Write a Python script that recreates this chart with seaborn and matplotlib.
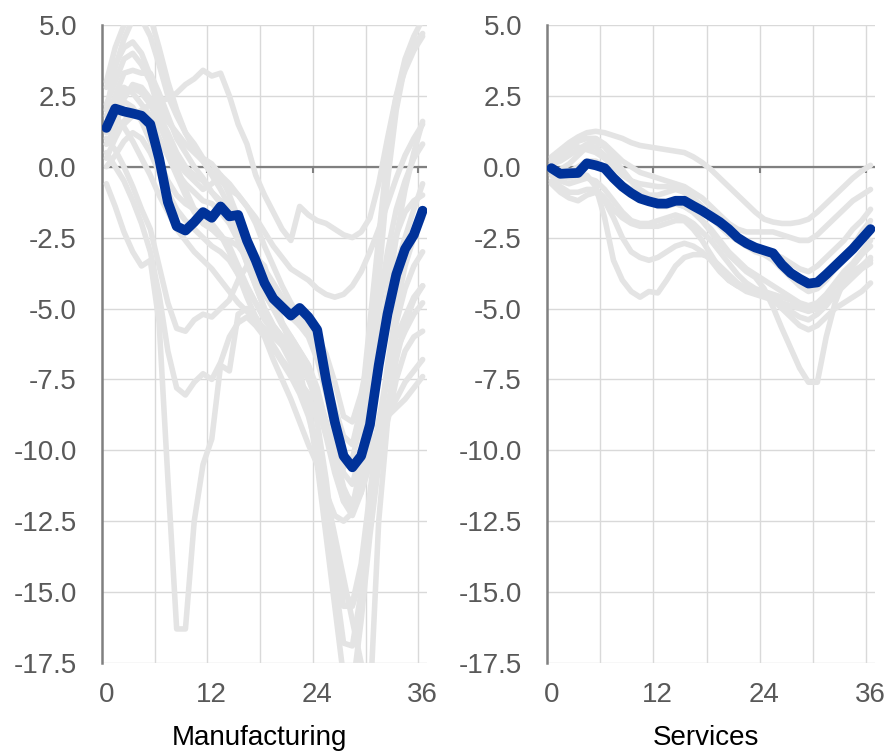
import matplotlib
matplotlib.use("Agg")
import matplotlib.pyplot as plt
import numpy as np
import pandas as pd
import seaborn as sns

# ---------------- data ----------------
months = list(range(37))
x_tick_values = [0, 12, 24, 36]
x_tick_labels = ["0", "12", "24", "36"]
y_tick_values = [5.0, 2.5, 0.0, -2.5, -5.0, -7.5, -10.0, -12.5, -15.0, -17.5]
y_tick_labels = ["5.0", "2.5", "0.0", "-2.5", "-5.0", "-7.5", "-10.0", "-12.5", "-15.0", "-17.5"]
panel_titles = ["Manufacturing", "Services"]

mfg_avg = [1.37, 2.05, 1.95, 1.88, 1.8, 1.5, 0.3, -1.25, -2.1, -2.25, -1.95, -1.6, -1.8, -1.4,
           -1.75, -1.7, -2.6, -3.3, -4.1, -4.65, -4.95, -5.25, -4.98, -5.3, -5.75, -7.5, -9.0,
           -10.2, -10.6, -10.2, -9.1, -7.0, -5.2, -3.8, -2.9, -2.4, -1.55]
svc_avg = [-0.05, -0.25, -0.23, -0.22, 0.12, 0.05, -0.05, -0.4, -0.7, -0.93, -1.12, -1.22, -1.3,
           -1.3, -1.2, -1.2, -1.38, -1.55, -1.75, -1.95, -2.2, -2.5, -2.7, -2.85, -2.95, -3.05,
           -3.45, -3.75, -3.95, -4.12, -4.08, -3.8, -3.5, -3.2, -2.9, -2.55, -2.2]

mfg_1 = [2.0, 3.5, 4.5, 5.2, 5.6, 5.3, 4.2, 3.0, 2.0, 1.2, 0.6, 0.2, -0.3, -0.8, -1.4, -2.0, -2.8, -3.6, -4.4, -5.0, -5.6, -6.0, -6.5, -7.0, -7.8, -9.0, -10.5, -11.8, -12.0, -10.5, -7.5, -4.0, -0.5, 2.0, 3.6, 4.3, 4.7]
mfg_2 = [0.8, 1.2, 1.5, 1.8, 2.0, 2.2, 2.3, 2.4, 2.6, 2.9, 3.1, 3.4, 3.2, 3.3, 2.5, 1.5, 0.8, -0.3, -1.0, -1.6, -2.2, -2.6, -1.4, -1.7, -1.9, -2.0, -2.2, -2.4, -2.5, -2.3, -1.8, -0.6, 1.0, 2.5, 3.4, 4.1, 4.6]
mfg_3 = [1.5, 2.5, 3.3, 3.4, 3.3, 3.3, 2.6, 1.8, 1.0, 0.5, 0.0, -0.4, -0.9, -1.2, -1.7, -2.5, -3.4, -4.2, -5.0, -5.6, -6.0, -6.3, -6.8, -7.4, -8.4, -9.5, -10.8, -11.8, -12.3, -11.5, -9.5, -7.0, -4.5, -2.5, -0.8, 0.5, 1.6]
mfg_4 = [-0.6, -1.4, -2.3, -3.0, -3.5, -3.3, -5.5, -11.0, -16.3, -16.3, -12.5, -10.5, -9.6, -7.0, -7.2, -5.2, -5.0, -5.3, -5.8, -6.3, -6.8, -7.2, -7.6, -8.0, -9.0, -11.0, -13.5, -15.5, -15.5, -14.5, -12.0, -9.5, -7.0, -5.0, -3.5, -2.5, -1.8]
mfg_5 = [0.5, 0.0, -0.5, -1.2, -2.0, -3.0, -4.5, -6.5, -7.8, -8.05, -7.6, -7.3, -7.5, -6.9, -6.0, -5.5, -5.3, -5.6, -6.0, -6.8, -7.5, -8.2, -9.0, -9.8, -10.5, -11.5, -12.3, -12.5, -12.2, -11.0, -9.8, -9.3, -8.8, -8.5, -8.2, -7.8, -7.4]
mfg_6 = [1.0, 0.6, 0.0, -0.7, -1.5, -2.2, -3.5, -4.8, -5.7, -5.8, -5.4, -5.2, -5.3, -5.0, -4.7, -4.0, -3.5, -3.2, -3.5, -4.5, -5.5, -6.3, -7.0, -7.5, -8.0, -9.0, -10.0, -11.3, -12.0, -11.5, -10.5, -9.0, -7.5, -6.5, -5.8, -5.2, -4.8]
mfg_7 = [1.2, 2.0, 2.6, 2.8, 2.6, 2.2, 1.5, 0.8, 0.2, -0.2, -0.5, -0.8, -0.6, -0.3, -0.6, -1.0, -1.4, -1.8, -2.3, -2.8, -3.2, -3.6, -3.8, -4.0, -4.3, -4.5, -4.6, -4.5, -4.2, -3.7, -3.0, -2.2, -1.3, -0.4, 0.4, 1.0, 1.5]
mfg_8 = [0.3, 1.0, 1.6, 2.0, 1.8, 1.5, 1.0, 0.4, -0.3, -1.0, -1.6, -2.0, -2.2, -2.5, -2.6, -2.8, -3.2, -3.8, -4.5, -5.0, -5.5, -6.0, -6.5, -7.0, -8.0, -9.0, -10.0, -10.6, -10.3, -9.0, -7.0, -5.0, -3.0, -1.5, -0.5, 0.3, 0.8]
mfg_9 = [1.8, 2.4, 2.8, 2.6, 2.2, 1.8, 1.0, 0.4, -0.2, -0.6, -0.9, -1.2, -1.3, -1.6, -2.0, -2.6, -3.4, -4.2, -5.0, -5.6, -6.0, -6.5, -7.2, -8.5, -10.5, -13.0, -15.5, -18.0, -18.5, -16.0, -13.0, -10.5, -8.5, -6.8, -5.5, -4.7, -4.2]
mfg_10 = [2.2, 3.0, 3.8, 4.0, 3.6, 3.0, 2.0, 1.0, 0.0, -0.8, -1.5, -2.0, -2.2, -2.4, -2.8, -3.5, -4.2, -4.8, -5.4, -5.8, -6.2, -6.8, -7.5, -8.5, -10.0, -12.0, -14.5, -16.8, -16.9, -15.0, -12.0, -9.5, -7.2, -5.5, -4.3, -3.5, -3.0]
mfg_11 = [0.0, 0.4, 0.9, 1.2, 1.0, 0.5, -0.2, -0.9, -1.5, -1.9, -2.2, -2.5, -2.8, -3.0, -3.3, -3.8, -4.3, -4.8, -5.3, -5.8, -6.3, -6.9, -7.6, -8.5, -10.0, -12.0, -13.8, -15.0, -15.4, -14.0, -11.5, -9.0, -7.2, -6.0, -5.3, -4.6, -4.2]
mfg_12 = [1.5, 2.0, 2.3, 2.1, 1.6, 0.9, 0.2, -0.5, -1.0, -1.3, -1.5, -1.7, -2.0, -2.4, -3.0, -3.8, -4.6, -5.3, -5.9, -6.4, -6.9, -7.4, -8.0, -8.8, -10.0, -11.5, -13.0, -14.5, -16.0, -17.5, -19.0, -12.5, -9.0, -7.5, -6.5, -6.0, -5.8]
mfg_13 = [2.8, 3.6, 4.2, 4.4, 4.0, 3.2, 2.3, 1.6, 1.2, 0.8, 0.5, 0.2, -0.2, -0.5, -0.8, -1.0, -1.4, -2.0, -2.8, -3.5, -4.2, -4.8, -5.3, -5.8, -6.5, -7.5, -8.5, -9.5, -9.8, -8.5, -5.5, -2.5, 0.5, 2.5, 3.8, 4.6, 5.2]
mfg_14 = [3.0, 4.2, 5.0, 5.4, 5.2, 4.6, 3.6, 2.5, 1.8, 1.2, 0.8, 0.3, 0.1, -0.3, -1.0, -1.8, -2.5, -3.1, -3.6, -4.1, -4.6, -5.1, -5.6, -6.0, -6.8, -8.0, -9.4, -10.8, -11.2, -10.0, -8.0, -6.0, -4.5, -3.5, -2.5, -1.5, -0.6]
mfg_15 = [0.8, 1.4, 2.4, 2.9, 2.8, 2.4, 1.8, 1.2, 0.5, 0.0, -0.3, -0.5, -0.9, -1.3, -1.8, -2.3, -2.8, -3.3, -3.8, -4.3, -4.8, -5.3, -5.6, -5.7, -6.0, -6.6, -7.6, -8.8, -9.0, -8.0, -6.5, -5.0, -3.5, -2.4, -1.6, -1.2, -1.0]
mfg_16 = [1.5, 1.8, 1.4, 0.9, 0.3, -0.3, -1.0, -1.6, -2.2, -2.6, -3.0, -3.3, -3.6, -4.0, -4.4, -4.8, -5.1, -5.4, -5.7, -6.0, -6.3, -6.6, -7.0, -7.5, -8.3, -9.3, -10.5, -11.5, -11.8, -11.3, -10.4, -9.6, -8.8, -8.2, -7.6, -7.2, -6.8]

svc_1 = [0.35, 0.6, 0.85, 1.05, 1.2, 1.25, 1.2, 1.1, 1.0, 0.85, 0.75, 0.7, 0.65, 0.6, 0.55, 0.5, 0.35, 0.15, -0.1, -0.4, -0.7, -1.0, -1.3, -1.6, -1.85, -1.95, -2.0, -2.0, -1.95, -1.85, -1.6, -1.3, -1.0, -0.7, -0.4, -0.15, 0.05]
svc_2 = [-0.1, -0.3, -0.4, -0.3, -0.3, -0.7, -1.8, -3.3, -4.0, -4.4, -4.6, -4.4, -4.45, -4.0, -3.5, -3.2, -3.1, -3.1, -3.2, -3.5, -3.8, -4.1, -4.3, -4.4, -4.4, -4.5, -4.6, -4.7, -4.9, -5.0, -4.9, -4.6, -4.2, -3.9, -3.7, -3.5, -3.3]
svc_3 = [-0.2, -0.3, -0.2, 0.0, 0.2, 0.2, 0.0, -0.3, -0.6, -0.8, -1.0, -1.1, -1.2, -1.25, -1.3, -1.4, -1.6, -1.9, -2.3, -2.7, -3.1, -3.4, -3.7, -3.9, -4.3, -4.95, -5.7, -6.4, -7.1, -7.6, -7.6, -6.0, -4.8, -4.0, -3.5, -3.1, -2.8]
svc_4 = [-0.5, -0.7, -0.9, -0.9, -0.8, -0.8, -1.1, -1.5, -1.8, -2.0, -2.1, -2.1, -2.1, -2.0, -1.9, -1.9, -2.2, -2.6, -3.1, -3.6, -4.0, -4.2, -4.3, -4.4, -4.5, -4.7, -5.0, -5.3, -5.6, -5.75, -5.6, -5.3, -5.0, -4.8, -4.6, -4.4, -4.1]
svc_5 = [0.0, 0.3, 0.6, 0.9, 1.0, 1.0, 0.8, 0.5, 0.2, 0.0, -0.2, -0.3, -0.4, -0.5, -0.6, -0.7, -0.9, -1.1, -1.4, -1.7, -2.0, -2.2, -2.3, -2.3, -2.3, -2.3, -2.4, -2.5, -2.6, -2.6, -2.4, -2.1, -1.8, -1.5, -1.2, -1.0, -0.8]
svc_6 = [0.2, 0.4, 0.7, 0.7, 0.6, 0.5, 0.3, 0.0, -0.3, -0.5, -0.6, -0.65, -0.7, -0.7, -0.75, -0.9, -1.2, -1.5, -1.8, -2.1, -2.4, -2.6, -2.8, -2.9, -3.0, -3.1, -3.2, -3.4, -3.6, -3.7, -3.5, -3.2, -2.9, -2.6, -2.2, -1.9, -1.5]
svc_7 = [-0.3, -0.5, -0.6, -0.5, -0.4, -0.5, -0.8, -1.2, -1.6, -1.9, -2.0, -2.0, -1.9, -1.8, -1.7, -1.8, -2.0, -2.3, -2.6, -3.0, -3.4, -3.8, -4.1, -4.3, -4.4, -4.6, -4.8, -5.1, -5.3, -5.4, -5.2, -4.9, -4.5, -4.1, -3.8, -3.5, -3.2]
svc_8 = [0.1, 0.2, 0.4, 0.6, 0.8, 0.9, 0.7, 0.3, -0.1, -0.5, -0.9, -1.2, -1.4, -1.4, -1.3, -1.4, -1.6, -1.9, -2.2, -2.6, -3.0, -3.3, -3.6, -3.8, -4.0, -4.2, -4.4, -4.6, -4.8, -4.9, -4.8, -4.5, -4.1, -3.7, -3.4, -3.0, -2.6]
svc_9 = [-0.2, -0.1, 0.1, 0.4, 0.7, 0.7, 0.4, 0.1, -0.2, -0.5, -0.8, -1.0, -1.0, -0.9, -0.8, -0.9, -1.1, -1.4, -1.7, -2.0, -2.3, -2.6, -2.8, -3.0, -3.1, -3.3, -3.6, -3.9, -4.2, -4.4, -4.3, -4.0, -3.6, -3.2, -2.8, -2.3, -1.9]
svc_10 = [-0.6, -0.9, -1.1, -1.2, -1.0, -0.9, -1.2, -1.8, -2.5, -3.0, -3.2, -3.3, -3.2, -3.0, -2.8, -2.7, -2.8, -3.0, -3.3, -3.7, -4.0, -4.2, -4.4, -4.5, -4.6, -4.7, -4.8, -4.9, -5.0, -5.1, -5.0, -4.8, -4.5, -4.2, -3.9, -3.6, -3.4]

mfg_series = [mfg_1, mfg_2, mfg_3, mfg_4, mfg_5, mfg_6, mfg_7, mfg_8,
              mfg_9, mfg_10, mfg_11, mfg_12, mfg_13, mfg_14, mfg_15, mfg_16]
svc_series = [svc_1, svc_2, svc_3, svc_4, svc_5, svc_6, svc_7, svc_8, svc_9, svc_10]


def long_frame(series_list):
    rows = []
    for k, vals in enumerate(series_list):
        for m, v in zip(months, vals):
            rows.append({"series": k, "month": m, "value": v})
    return pd.DataFrame(rows)


# ---------------- style ----------------
sns.set_style("white")
plt.rcParams["font.family"] = ["Liberation Sans", "DejaVu Sans"]
plt.rcParams["axes.unicode_minus"] = False

GRAY_LINE = "#E4E4E4"
BLUE = "#003299"
GRID = "#D9D9D9"
AXIS = "#808080"
TICKTXT = "#595959"

fig = plt.figure(figsize=(8.9, 7.52), dpi=100)
ax_m = fig.add_axes([0.1146, 0.1184, 0.3652, 0.8484])
ax_s = fig.add_axes([0.6146, 0.1184, 0.3685, 0.8484])

panels = [(ax_m, mfg_series, mfg_avg, panel_titles[0]),
          (ax_s, svc_series, svc_avg, panel_titles[1])]

for ax, series_list, avg, title in panels:
    df_g = long_frame(series_list)
    sns.lineplot(data=df_g, x="month", y="value", units="series", estimator=None,
                 color=GRAY_LINE, lw=4.0, ax=ax, legend=False, zorder=3)
    df_a = pd.DataFrame({"month": months, "value": avg})
    sns.lineplot(data=df_a, x="month", y="value", color=BLUE, lw=7.0, ax=ax,
                 legend=False, zorder=4, solid_capstyle="round", solid_joinstyle="round")

    ax.set_xlim(-0.5, 36.5)
    ax.set_ylim(-17.5, 5.0)

    # y axis
    ax.set_yticks(y_tick_values)
    ax.set_yticklabels(y_tick_labels)
    ax.tick_params(axis="y", direction="in", length=6, width=1.5, color=AXIS,
                   labelcolor=TICKTXT, labelsize=20, pad=18)
    ax.grid(axis="y", which="major", color=GRID, lw=1.0, zorder=0)

    # x axis: labels at month centres, gridlines at category boundaries
    ax.set_xticks(x_tick_values)
    ax.set_xticklabels(x_tick_labels)
    ax.set_xticks([5.5, 11.5, 17.5, 23.5, 29.5, 35.5], minor=True)
    ax.tick_params(axis="x", which="both", length=0, labelcolor=TICKTXT,
                   labelsize=20, pad=14)
    ax.grid(axis="x", which="minor", color=GRID, lw=1.0, zorder=0)
    ax.grid(axis="x", which="major", visible=False)
    ax.set_axisbelow(True)

    # zero line with small tick marks
    ax.axhline(0, color=AXIS, lw=1.6, zorder=2)
    ax.vlines([11.5, 23.5, 35.5], -0.22, 0, color=AXIS, lw=1.5, zorder=2)

    for side in ["top", "right", "bottom"]:
        ax.spines[side].set_visible(False)
    ax.spines["left"].set_color(AXIS)
    ax.spines["left"].set_linewidth(1.8)

    ax.set_xlabel(title, fontsize=20, color="black")
    ax.xaxis.set_label_coords(0.485, -0.097, transform=ax.transAxes)
    ax.xaxis.label.set_va("top")
    ax.set_ylabel("")

fig.savefig("out.png", dpi=100)
